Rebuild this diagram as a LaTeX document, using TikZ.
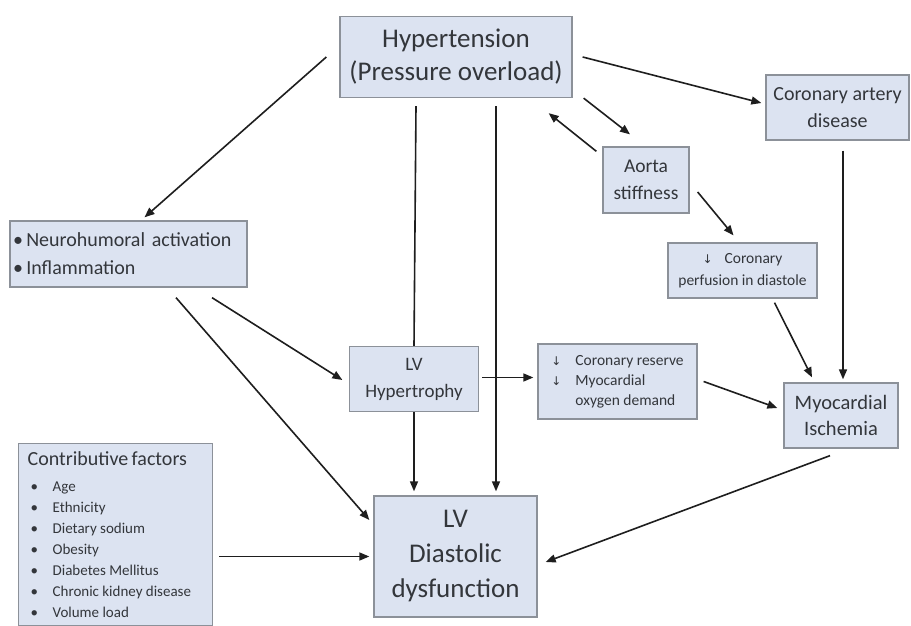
\documentclass[tikz,border=0pt]{standalone}
\usepackage{fontspec}
\setmainfont{Carlito}
\newfontfamily\symfont{DejaVu Sans}
\usetikzlibrary{arrows.meta}
\definecolor{boxfill}{HTML}{DCE3F1}
\definecolor{boxline}{HTML}{8C9199}
\definecolor{txt}{HTML}{33363B}
\definecolor{ink}{HTML}{1E1E1E}
\newcommand{\dn}{{\symfont\fontsize{12}{12}\selectfont ↓}}
\newcommand{\factor}[1]{\hspace*{3pt}\makebox[22pt][l]{\textbullet}#1}
\tikzset{
  box/.style={draw=boxline, line width=1.3pt, fill=boxfill, text=txt,
    align=center, inner sep=2pt},
  arr/.style={draw=ink, line width=1.6pt, -{Triangle[length=10pt,width=8pt]}},
  link/.style={draw=ink, line width=1.6pt}
}
\begin{document}
\begin{tikzpicture}[x=1pt,y=-1pt]
\useasboundingbox (0,0) rectangle (911,626);
\fill[white] (0,0) rectangle (911,626);

% boxes
\node[box, minimum width=232pt, minimum height=81pt,
  font=\fontsize{27}{33}\selectfont] (hyp) at (456,57)
  {Hypertension\\(Pressure overload)};
\node[box, minimum width=143pt, minimum height=65pt,
  font=\fontsize{20}{27}\selectfont] (cad) at (837.5,107.5)
  {Coronary artery\\disease};
\node[box, minimum width=86pt, minimum height=66pt,
  font=\fontsize{19.5}{27}\selectfont] (aorta) at (646,180)
  {Aorta\\stiffness};
\node[box, minimum width=149pt, minimum height=55pt,
  font=\fontsize{15.5}{22}\selectfont] (perf) at (742.5,270.5)
  {\dn\hspace{12pt}Coronary\\perfusion in diastole};
\node[box, minimum width=237pt, minimum height=66pt, align=left,
  text width=231pt, font=\fontsize{20}{28}\selectfont] (neuro) at (128.5,254)
  {\textbullet\,Neurohumoral activation\\\textbullet\,Inflammation};
\node[box, minimum width=129pt, minimum height=65pt,
  font=\fontsize{19}{27}\selectfont] (lvh) at (414,379)
  {LV\\Hypertrophy};
\node[box, minimum width=159pt, minimum height=75pt,
  font=\fontsize{15.5}{20}\selectfont] (res) at (617.5,381.5)
  {\begin{tabular}{@{}l@{\hspace{14pt}}l@{}}
    \dn & Coronary reserve\\
    \dn & Myocardial\\
        & oxygen demand
  \end{tabular}};
\node[box, minimum width=114pt, minimum height=65pt,
  font=\fontsize{20.5}{26}\selectfont] (isch) at (841,415.5)
  {Myocardial\\Ischemia};
\node[box, minimum width=194pt, minimum height=182pt, align=left,
  text width=176pt, inner xsep=9pt, anchor=north west] (contrib) at (18,443)
  {\vspace*{3pt}{\fontsize{20}{24}\selectfont Contributive factors\par}
   \vspace{2pt}
   {\fontsize{15}{21}\selectfont
   \factor{Age}\\
   \factor{Ethnicity}\\
   \factor{Dietary sodium}\\
   \factor{Obesity}\\
   \factor{Diabetes Mellitus}\\
   \factor{Chronic kidney disease}\\
   \factor{Volume load}\par}};
\node[box, minimum width=163pt, minimum height=121pt,
  font=\fontsize{27}{35}\selectfont] (lvdd) at (455.5,556.5)
  {LV\\Diastolic\\dysfunction};

% connectors
\draw[arr] ([xshift=-13pt]hyp.west) -- ([xshift=16pt,yshift=3pt]neuro.north);
\draw[arr] ([xshift=10pt]hyp.east) -- ([xshift=-4pt,yshift=4.5pt]cad.west);
\draw[arr] ([xshift=11pt]hyp.south east) -- ([xshift=-16pt,yshift=12pt]aorta.north);
\draw[arr] ([xshift=-6pt,yshift=-5pt]aorta.north west) -- ([xshift=-24pt,yshift=-15pt]hyp.south east);
\draw[arr] ([xshift=8pt,yshift=-12pt]aorta.east) -- ([xshift=-9pt,yshift=7pt]perf.north);
\draw[arr] ([xshift=5.5pt,yshift=-10pt]cad.south) -- ([xshift=2pt,yshift=3pt]isch.north);
\draw[arr] ([xshift=32pt,yshift=-4pt]perf.south) -- ([xshift=-29pt,yshift=5pt]isch.north);
\draw[link] ([xshift=-40pt,yshift=-8pt]hyp.south) -- (lvh.north);
\draw[arr] (lvh.south) -- ([yshift=4pt]lvh.south |- lvdd.north);
\draw[arr] ([xshift=40pt,yshift=-8pt]hyp.south) -- ([xshift=40.5pt,yshift=4pt]lvdd.north);
\draw[arr] ([xshift=3pt,yshift=1.5pt]lvh.east) -- ([xshift=-4pt,yshift=1.5pt]lvh.east -| res.west);
\draw[arr] ([xshift=6pt]res.east) -- ([xshift=-6pt,yshift=7.5pt]isch.west);
\draw[arr] ([xshift=83.5pt,yshift=-10pt]neuro.south) -- ([xshift=-6.5pt,yshift=-1pt]lvh.west);
\draw[arr] ([xshift=47.5pt,yshift=-10pt]neuro.south) -- ([xshift=-4pt,yshift=36.5pt]lvdd.west);
\draw[arr] ([xshift=6pt]contrib.east |- lvdd.west) -- ([xshift=-4pt]lvdd.west);
\draw[arr] ([xshift=-11pt,yshift=-7pt]isch.south) -- ([xshift=8pt,yshift=-5.5pt]lvdd.east);
\end{tikzpicture}
\end{document}
